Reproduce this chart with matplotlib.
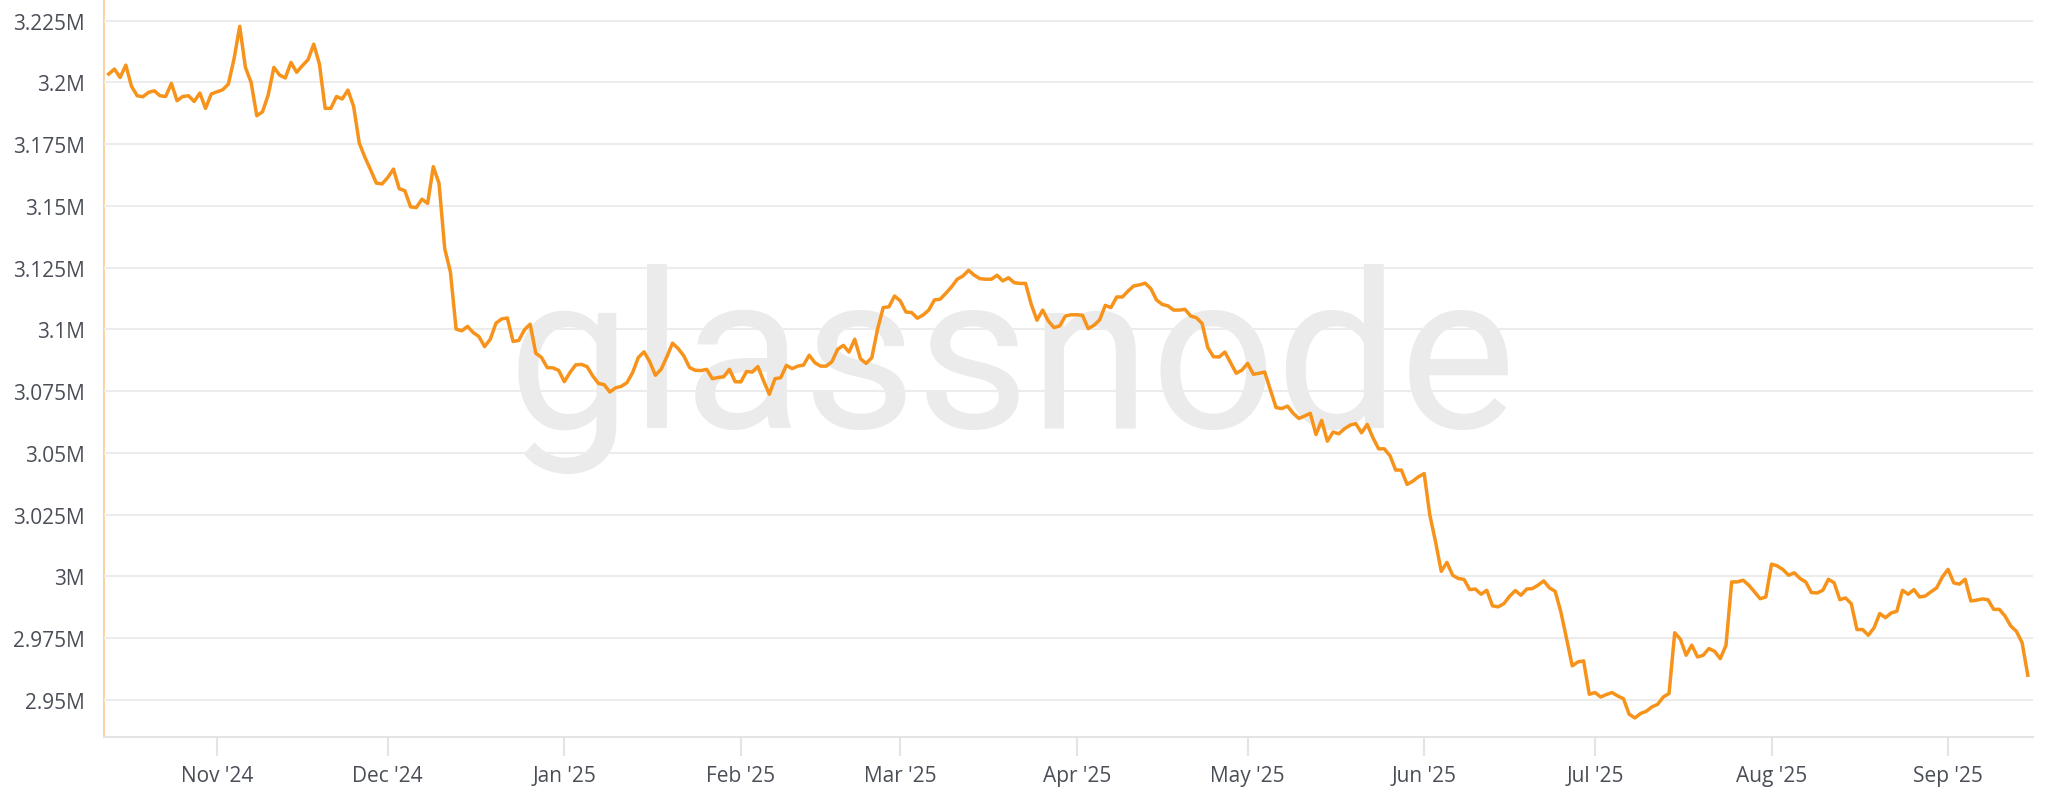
import numpy as np
import pandas as pd
import matplotlib.pyplot as plt
import matplotlib.dates as mdates

plt.rcParams['font.family'] = ['Open Sans', 'DejaVu Sans']

# daily values, thousands of BTC, first day below
start_date = "2024-10-13"

oct_dec_24 = [3203.4, 3205.4, 3202.0, 3207.0, 3198.4, 3194.6, 3194.2, 3196.0, 3196.6, 3194.6,
              3194.3, 3199.6, 3192.6, 3194.3, 3194.6, 3192.3, 3195.7, 3189.5, 3195.3, 3196.2,
              3197.0, 3199.3, 3209.5, 3222.7, 3206.1, 3200.0, 3186.5, 3188.1, 3194.9, 3206.1,
              3203.0, 3201.8, 3208.1, 3204.1, 3206.8, 3209.2, 3215.5, 3207.4, 3189.5, 3189.5,
              3194.3, 3193.3, 3196.9, 3190.3, 3175.4, 3169.6, 3164.5, 3159.2, 3158.9, 3161.5,
              3164.9, 3157.0, 3156.1, 3149.6, 3149.3, 3152.7, 3151.0]

dec_jan_25 = [3165.9, 3159.1, 3132.7, 3123.2, 3100.1, 3099.4, 3101.2, 3098.7, 3097.1, 3093.0,
              3096.0, 3102.5, 3104.2, 3104.6, 3095.1, 3095.5, 3099.8, 3102.1, 3090.3, 3088.6,
              3084.5, 3084.4, 3083.4, 3078.8, 3082.5, 3085.6, 3085.8, 3084.9, 3081.1, 3078.1,
              3077.6, 3074.6, 3076.3, 3076.9, 3078.4, 3082.5, 3088.6, 3090.9, 3086.9, 3081.4,
              3083.8, 3088.8, 3094.4, 3092.2, 3089.2, 3084.5, 3083.4, 3083.3, 3083.8, 3080.0,
              3080.5, 3080.8, 3083.8, 3078.8, 3078.7, 3082.9]

feb_mar_25 = [3082.7, 3084.9, 3079.1, 3073.7, 3080.0, 3080.4, 3085.4, 3084.1, 3085.1, 3085.5,
              3089.5, 3086.5, 3085.1, 3085.1, 3086.9, 3091.9, 3093.5, 3090.8, 3096.0, 3088.1,
              3086.2, 3088.5, 3100.0, 3108.8, 3109.1, 3113.5, 3111.5, 3107.0, 3106.8, 3104.5,
              3105.8, 3107.8, 3111.9, 3112.2, 3114.6, 3117.2, 3120.3, 3121.6, 3123.9, 3121.9,
              3120.5, 3120.3, 3120.3, 3121.9, 3119.6, 3120.9, 3118.9, 3118.6, 3118.6, 3110.1,
              3103.7, 3107.8, 3103.4, 3100.7, 3101.4, 3105.4]

apr_may_25 = [3105.9, 3105.9, 3105.7, 3100.3, 3101.6, 3103.8, 3109.7, 3108.8, 3113.1, 3113.1,
              3115.5, 3117.6, 3118.0, 3118.7, 3116.5, 3111.9, 3110.1, 3109.5, 3107.8, 3107.8,
              3108.1, 3105.4, 3104.7, 3102.4, 3092.6, 3088.9, 3088.8, 3090.8, 3086.5, 3082.2,
              3083.5, 3086.2, 3081.8, 3082.2, 3082.7, 3075.4, 3068.3, 3067.9, 3068.9, 3066.0,
              3063.9, 3064.9, 3066.0, 3057.4, 3063.1, 3054.7, 3058.4, 3057.7, 3059.7, 3061.2,
              3061.8, 3058.1, 3061.5, 3056.1, 3051.6, 3051.6]

jun_jul_25 = [3048.8, 3043.0, 3043.0, 3037.2, 3038.5, 3040.3, 3041.6, 3024.7, 3013.9, 3002.0,
              3005.6, 3000.4, 2999.1, 2998.7, 2994.6, 2994.8, 2992.7, 2994.3, 2988.0, 2987.6,
              2988.9, 2991.9, 2994.2, 2992.3, 2994.8, 2995.0, 2996.4, 2998.1, 2995.3, 2993.9,
              2985.6, 2974.8, 2963.7, 2965.3, 2965.7, 2952.2, 2952.9, 2951.1, 2952.1, 2952.9,
              2951.5, 2950.4, 2944.1, 2942.6, 2944.4, 2945.3, 2947.1, 2948.1, 2951.1, 2952.5,
              2977.1, 2974.5, 2968.0, 2972.1, 2967.3, 2968.0, 2970.7]

jul_sep_25 = [2969.6, 2966.6, 2972.0, 2997.7, 2997.7, 2998.4, 2996.4, 2993.7, 2990.9, 2991.6,
              3004.9, 3004.2, 3002.7, 3000.4, 3001.4, 2999.1, 2997.7, 2993.4, 2993.2, 2994.3,
              2998.8, 2997.3, 2990.5, 2991.2, 2988.9, 2978.4, 2978.4, 2976.1, 2979.1, 2984.9,
              2983.2, 2985.1, 2985.8, 2994.3, 2992.7, 2994.6, 2991.6, 2992.0, 2993.7, 2995.3,
              2999.7, 3002.8, 2997.3, 2996.8, 2998.8, 2990.0, 2990.3, 2990.8, 2990.5, 2986.6,
              2986.6, 2983.9, 2979.9, 2977.7, 2973.1, 2959.9]

ytick_values = [2.95e6, 2.975e6, 3.0e6, 3.025e6, 3.05e6, 3.075e6, 3.1e6,
                3.125e6, 3.15e6, 3.175e6, 3.2e6, 3.225e6]
ytick_labels = ["2.95M", "2.975M", "3M", "3.025M", "3.05M", "3.075M", "3.1M",
                "3.125M", "3.15M", "3.175M", "3.2M", "3.225M"]

values = np.concatenate([oct_dec_24, dec_jan_25, feb_mar_25,
                         apr_may_25, jun_jul_25, jul_sep_25]) * 1000
dates = pd.date_range(start_date, periods=len(values), freq="D")

line_color = "#f7931a"
text_color = "#4a4e57"
grid_color = "#ececec"

fig = plt.figure(figsize=(20.48, 8.04), dpi=100)
ax = fig.add_axes([104 / 2048, 66 / 804, 1929 / 2048, 738 / 804])

# watermark
ax.text(0.4707, 0.42, "glassnode", transform=ax.transAxes, ha="center", va="baseline",
        fontsize=158, family=["Roboto", "DejaVu Sans"], fontweight="normal",
        color="#ebebeb", zorder=0)

ax.plot(dates, values, color=line_color, lw=2.5, solid_joinstyle="round", zorder=3)

ax.set_ylim(2.93489e6, 3.23379e6)
ax.set_xlim(pd.Timestamp("2024-10-12 04:00"), pd.Timestamp("2025-09-15 22:00"))

ax.set_yticks(ytick_values)
ax.set_yticklabels(ytick_labels)
ax.yaxis.grid(True, color=grid_color, lw=1.5, zorder=1)
ax.set_axisbelow(False)
ax.xaxis.grid(False)

ax.xaxis.set_major_locator(mdates.MonthLocator())
ax.xaxis.set_major_formatter(mdates.DateFormatter("%b '%y"))

ax.tick_params(axis="y", length=0, pad=14, labelsize=15, labelcolor=text_color)
ax.tick_params(axis="x", length=13.5, width=1.5, color="#e4e4e4", pad=7,
               labelsize=15, labelcolor=text_color)

for side in ["top", "right"]:
    ax.spines[side].set_visible(False)
ax.spines["left"].set_color("#fbcf98")
ax.spines["left"].set_linewidth(1.3)
ax.spines["bottom"].set_color("#e4e4e4")
ax.spines["bottom"].set_linewidth(1.5)

plt.savefig("out.png", dpi=100)
